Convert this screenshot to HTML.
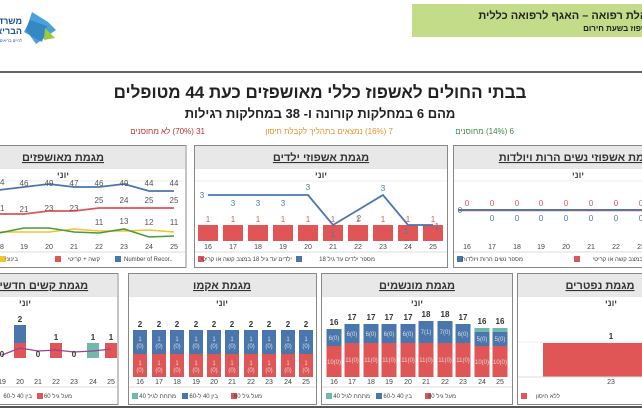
<!DOCTYPE html>
<html><head><meta charset="utf-8"><style>
html,body{margin:0;padding:0;background:#fff;}
svg{display:block;font-family:"Liberation Sans","DejaVu Sans",sans-serif;}
.t{font-weight:bold;font-size:11px;text-decoration:underline;fill:#333}
.m{font-size:9px;fill:#444;font-weight:bold}
.x{font-size:7px;fill:#444}
.lg{font-size:6px;fill:#444}
</style></head><body>
<svg width="642" height="410" viewBox="0 0 642 410" xmlns="http://www.w3.org/2000/svg">
<!-- header -->
<rect x="412" y="4" width="235" height="33" fill="#c3dc8a"/>
<text x="660" y="19" font-size="11" font-weight="bold" text-anchor="start" direction="rtl" fill="#222">מנהלת רפואה – האגף לרפואה כללית</text>
<text x="680" y="31" font-size="8" font-weight="bold" text-anchor="start" direction="rtl" fill="#222">מערך האשפוז בשעת חירום</text>
<polygon points="32,12 48,22 56,30 36,44 26,30" fill="#4aa3d8"/>
<polygon points="30,20 47,26 42,42 24,32" fill="#2f7fc0" opacity="0.8"/>
<polygon points="45,28 55,38 44,40" fill="#9ccb3b"/>
<text x="22" y="24" font-size="9" font-weight="bold" fill="#1d4f8c" text-anchor="start" direction="rtl">משרד</text>
<text x="22" y="34" font-size="9" font-weight="bold" fill="#1d4f8c" text-anchor="start" direction="rtl">הבריאות</text>
<text x="22" y="42" font-size="4" fill="#1d4f8c" text-anchor="start" direction="rtl">לחיים בריאים</text>
<rect x="0" y="71" width="642" height="2" fill="#666"/>
<text x="320" y="98" font-size="17" font-weight="bold" text-anchor="middle" direction="rtl" fill="#222">בבתי החולים לאשפוז כללי מאושפזים כעת 44 מטופלים</text>
<text x="320" y="118" font-size="13" font-weight="bold" text-anchor="middle" direction="rtl" fill="#222">מהם 6 במחלקות קורונה ו- 38 במחלקות רגילות</text>
<text x="514" y="134" font-size="8" text-anchor="start" direction="rtl" fill="#3f8a3f">6 (14%) מחוסנים</text>
<text x="393" y="134" font-size="8" text-anchor="start" direction="rtl" fill="#e8902a">7 (16%) נמצאים בתהליך לקבלת חיסון</text>
<text x="205" y="134" font-size="8" text-anchor="start" direction="rtl" fill="#c0302a">31 (70%) לא מחוסנים</text>

<!-- Row1 panels -->
<g>
<rect x="-66" y="145.5" width="252" height="122" fill="#fff" stroke="#888"/>
<rect x="-65" y="146" width="250" height="23" fill="#e8e8e8"/>
<text x="63" y="161" class="t" text-anchor="middle" direction="rtl">מגמת מאושפזים</text>
<text x="63" y="178" class="m" text-anchor="middle">יוני</text>
<line x1="-65" y1="181" x2="185" y2="181" stroke="#eee"/>
<polyline points="-1,190 24,187 49,184 74,187 99,187 124,184 149,191 174,191" fill="none" stroke="#4a76ae" stroke-width="1.8"/>
<g font-size="8" fill="#555" text-anchor="middle"><text x="0" y="185">44</text><text x="24" y="186">46</text><text x="49" y="186">49</text><text x="74" y="186">47</text><text x="99" y="186">46</text><text x="124" y="186">49</text><text x="149" y="186">44</text><text x="174" y="186">44</text></g>
<polyline points="-1,214 24,214 49,211 74,211 99,208 124,208 149,208 174,208" fill="none" stroke="#e05555" stroke-width="1.8"/>
<g font-size="8" fill="#555" text-anchor="middle"><text x="0" y="211">21</text><text x="24" y="212">21</text><text x="49" y="211">23</text><text x="74" y="211">23</text><text x="99" y="203">25</text><text x="124" y="203">24</text><text x="149" y="203">25</text><text x="174" y="203">25</text>
<text x="99" y="225">11</text><text x="124" y="224">13</text><text x="149" y="225">12</text><text x="174" y="225">11</text></g>
<polyline points="-1,232 24,232 49,232 74,229 99,231 124,231 149,230 174,232" fill="none" stroke="#f0c330" stroke-width="1.6"/>
<polyline points="-1,233 24,228 49,228 74,232 99,233 124,229 149,237 174,236" fill="none" stroke="#4b9a35" stroke-width="1.6"/>
<g class="x" text-anchor="middle"><text x="0" y="249">18</text><text x="24" y="249">19</text><text x="49" y="249">20</text><text x="74" y="249">21</text><text x="99" y="249">22</text><text x="124" y="249">23</text><text x="149" y="249">24</text><text x="174" y="249">25</text></g>
<line x1="-65" y1="252" x2="185" y2="252" stroke="#ddd"/>
<rect x="115" y="256" width="6" height="6" fill="#4a76ae"/><text x="124" y="261" class="lg">Number of Recor..</text>
<rect x="55" y="256" width="6" height="6" fill="#e05555"/><text x="100" y="261" class="lg" text-anchor="start" direction="rtl">קשה + קריטי</text>
<rect x="0" y="256" width="6" height="6" fill="#f0c330"/><text x="18" y="261" class="lg" text-anchor="start" direction="rtl">בינוני</text>
</g>

<g>
<rect x="194.5" y="145.5" width="253" height="122" fill="#fff" stroke="#888"/>
<rect x="195" y="146" width="252" height="23" fill="#e8e8e8"/>
<text x="321" y="161" class="t" text-anchor="middle" direction="rtl">מגמת אשפוזי ילדים</text>
<text x="321" y="178" class="m" text-anchor="middle">יוני</text>
<line x1="195" y1="181" x2="447" y2="181" stroke="#eee"/>
<g fill="#e05555">
<rect x="198" y="225" width="20" height="16"/><rect x="223" y="225" width="20" height="16"/><rect x="248" y="225" width="20" height="16"/><rect x="273" y="225" width="20" height="16"/><rect x="298" y="225" width="20" height="16"/><rect x="323" y="225" width="20" height="16"/><rect x="348" y="225" width="20" height="16"/><rect x="373" y="225" width="20" height="16"/><rect x="398" y="225" width="20" height="16"/><rect x="423" y="225" width="20" height="16"/></g>
<g font-size="8" fill="#e05555" text-anchor="middle"><text x="208" y="222">1</text><text x="233" y="222">1</text><text x="258" y="222">1</text><text x="283" y="222">1</text><text x="308" y="222">1</text><text x="333" y="222">1</text><text x="358" y="222">1</text><text x="383" y="222">1</text><text x="408" y="222">1</text><text x="433" y="222">1</text></g>
<polyline points="208,195 233,195 258,195 283,195 308,195 333,225 358,210 383,195 408,225 433,225" fill="none" stroke="#4a76ae" stroke-width="1.8"/>
<g font-size="8" fill="#4a76ae" text-anchor="middle"><text x="202" y="198">3</text><text x="233" y="206">3</text><text x="258" y="206">3</text><text x="283" y="206">3</text><text x="308" y="190">3</text><text x="333" y="237">1</text><text x="359" y="221">2</text><text x="383" y="191">3</text><text x="406" y="234">1</text><text x="437" y="229">1</text></g>
<g class="x" text-anchor="middle"><text x="208" y="249">16</text><text x="233" y="249">17</text><text x="258" y="249">18</text><text x="283" y="249">19</text><text x="308" y="249">20</text><text x="333" y="249">21</text><text x="358" y="249">22</text><text x="383" y="249">23</text><text x="408" y="249">24</text><text x="433" y="249">25</text></g>
<line x1="195" y1="252" x2="447" y2="252" stroke="#ddd"/>
<rect x="198" y="256" width="6" height="6" fill="#e05555"/><text x="292" y="261" class="lg" text-anchor="start" direction="rtl">ילדים עד גיל 18 במצב קשה או קריטי</text>
<rect x="296" y="256" width="6" height="6" fill="#4a76ae"/><text x="375" y="261" class="lg" text-anchor="start" direction="rtl">מספר ילדים עד גיל 18</text>
</g>

<g>
<rect x="453.5" y="145.5" width="200" height="122" fill="#fff" stroke="#888"/>
<rect x="454" y="146" width="200" height="23" fill="#e8e8e8"/>
<text x="578" y="161" class="t" text-anchor="middle" direction="rtl">מגמת אשפוזי נשים הרות ויולדות</text>
<text x="578" y="178" class="m" text-anchor="middle">יוני</text>
<line x1="454" y1="181" x2="642" y2="181" stroke="#eee"/>
<line x1="458" y1="210" x2="642" y2="210" stroke="#4a76ae" stroke-width="2"/>
<line x1="458" y1="211" x2="642" y2="211" stroke="#e05555" stroke-width="0.6"/>
<g font-size="8" fill="#e05555" text-anchor="middle"><text x="467" y="206">0</text><text x="492" y="206">0</text><text x="517" y="206">0</text><text x="541" y="206">0</text><text x="566" y="206">0</text><text x="591" y="206">0</text><text x="616" y="206">0</text><text x="641" y="206">0</text></g>
<g font-size="8" fill="#4a76ae" text-anchor="middle"><text x="460" y="213">0</text><text x="492" y="221">0</text><text x="517" y="221">0</text><text x="541" y="221">0</text><text x="566" y="221">0</text><text x="591" y="221">0</text><text x="616" y="221">0</text><text x="641" y="221">0</text></g>
<g class="x" text-anchor="middle"><text x="467" y="249">16</text><text x="492" y="249">17</text><text x="517" y="249">18</text><text x="541" y="249">19</text><text x="566" y="249">20</text><text x="591" y="249">21</text><text x="616" y="249">22</text><text x="641" y="249">23</text></g>
<line x1="454" y1="252" x2="642" y2="252" stroke="#ddd"/>
<rect x="457" y="256" width="6" height="6" fill="#4a76ae"/><text x="523" y="261" class="lg" text-anchor="start" direction="rtl">מספר נשים הרות ויולדות</text>
<rect x="574" y="256" width="6" height="6" fill="#e05555"/><text x="660" y="261" class="lg" text-anchor="start" direction="rtl">יולדות במצב קשה או קריטי</text>
</g>

<!-- Row2 -->
<g>
<rect x="-70" y="273.5" width="188" height="131" fill="#fff" stroke="#888"/>
<rect x="-69" y="274" width="186" height="23" fill="#e8e8e8"/>
<text x="40" y="289" class="t" text-anchor="middle" direction="rtl">מגמת קשים חדשים</text>
<text x="25" y="306" class="m" text-anchor="middle">יוני</text>
<rect x="14" y="325" width="12" height="18" fill="#4a76ae"/><rect x="14" y="343" width="12" height="15" fill="#e05555"/>
<rect x="50" y="343" width="12" height="15" fill="#e05555"/>
<rect x="87" y="343" width="12" height="15" fill="#6fb8aa"/>
<rect x="105" y="343" width="12" height="15" fill="#e05555"/>
<polyline points="2,355 20,348 38,351 56,350 74,352 93,351 111,349" fill="none" stroke="#a04090" stroke-width="1.3"/>
<g font-size="8" font-weight="bold" fill="#333" text-anchor="middle"><text x="2" y="357">0</text><text x="20" y="322">2</text><text x="38" y="357">0</text><text x="56" y="340">1</text><text x="74" y="357">0</text><text x="93" y="340">1</text><text x="111" y="340">1</text></g>
<g class="x" text-anchor="middle"><text x="2" y="384">19</text><text x="20" y="384">20</text><text x="38" y="384">21</text><text x="56" y="384">22</text><text x="74" y="384">23</text><text x="93" y="384">24</text><text x="111" y="384">25</text></g>
<line x1="-69" y1="387" x2="117" y2="387" stroke="#ddd"/>
<rect x="37" y="393" width="6" height="6" fill="#e05555"/><text x="72" y="398" class="lg" text-anchor="start" direction="rtl">מעל גיל 60</text>
<text x="32" y="398" class="lg" text-anchor="start" direction="rtl">בין 40 ל-60</text>
</g>

<g>
<rect x="128.5" y="273.5" width="188" height="131" fill="#fff" stroke="#888"/>
<rect x="129" y="274" width="187" height="23" fill="#e8e8e8"/>
<text x="222" y="289" class="t" text-anchor="middle" direction="rtl">מגמת אקמו</text>
<text x="222" y="306" class="m" text-anchor="middle">יוני</text>
<g class="x" text-anchor="middle"><text x="140" y="384">16</text><text x="159" y="384">17</text><text x="177" y="384">18</text><text x="196" y="384">19</text><text x="214" y="384">20</text><text x="232" y="384">21</text><text x="251" y="384">22</text><text x="269" y="384">23</text><text x="288" y="384">24</text><text x="306" y="384">25</text></g>
<line x1="129" y1="387" x2="316" y2="387" stroke="#ddd"/>
<rect x="132" y="393" width="6" height="6" fill="#6fb8aa"/><text x="176" y="398" class="lg" text-anchor="start" direction="rtl">מתחת לגיל 40</text>
<rect x="182" y="393" width="6" height="6" fill="#4a76ae"/><text x="218" y="398" class="lg" text-anchor="start" direction="rtl">בין 40 ל-60</text>
<rect x="231" y="393" width="6" height="6" fill="#e05555"/><text x="262" y="398" class="lg" text-anchor="start" direction="rtl">מעל גיל 60</text>
</g>

<g>
<rect x="321.5" y="273.5" width="191" height="131" fill="#fff" stroke="#888"/>
<rect x="322" y="274" width="190" height="23" fill="#e8e8e8"/>
<text x="417" y="289" class="t" text-anchor="middle" direction="rtl">מגמת מונשמים</text>
<text x="417" y="306" class="m" text-anchor="middle">יוני</text>
<g class="x" text-anchor="middle"><text x="334" y="384">16</text><text x="352" y="384">17</text><text x="371" y="384">18</text><text x="389" y="384">19</text><text x="408" y="384">20</text><text x="426" y="384">21</text><text x="445" y="384">22</text><text x="463" y="384">23</text><text x="482" y="384">24</text><text x="500" y="384">25</text></g>
<line x1="322" y1="387" x2="512" y2="387" stroke="#ddd"/>
<rect x="326" y="393" width="6" height="6" fill="#6fb8aa"/><text x="370" y="398" class="lg" text-anchor="start" direction="rtl">מתחת לגיל 40</text>
<rect x="376" y="393" width="6" height="6" fill="#4a76ae"/><text x="412" y="398" class="lg" text-anchor="start" direction="rtl">בין 40 ל-60</text>
<rect x="425" y="393" width="6" height="6" fill="#e05555"/><text x="456" y="398" class="lg" text-anchor="start" direction="rtl">מעל גיל 60</text>
</g>

<g>
<rect x="517.5" y="273.5" width="140" height="131" fill="#fff" stroke="#888"/>
<rect x="518" y="274" width="140" height="23" fill="#e8e8e8"/>
<text x="600" y="289" class="t" text-anchor="middle" direction="rtl">מגמת נפטרים</text>
<text x="611" y="306" class="m" text-anchor="middle">יוני</text>
<line x1="518" y1="342" x2="642" y2="342" stroke="#eee"/>
<rect x="543" y="343" width="100" height="34" fill="#e05555"/>
<text x="611" y="339" font-size="8" font-weight="bold" fill="#333" text-anchor="middle">1</text>
<text x="611" y="384" class="x" text-anchor="middle">23</text>
<line x1="518" y1="377" x2="642" y2="377" stroke="#ddd"/>
<rect x="521" y="393" width="6" height="6" fill="#e05555"/><text x="560" y="398" class="lg" text-anchor="start" direction="rtl">ללא חיסון</text>
</g>
<rect x="0" y="406" width="642" height="2" fill="#555"/>

<!-- ECMO bars -->
<g font-size="6" fill="#ddd" text-anchor="middle">
<g transform="translate(140,0)"><rect x="-7" y="330" width="14" height="24" fill="#4a76ae"/><rect x="-7" y="354" width="14" height="23" fill="#e05555"/><text y="341">1</text><text y="348">(0)</text><text y="365">1</text><text y="372">(0)</text><text y="327" font-size="8" font-weight="bold" fill="#333">2</text></g>
<g transform="translate(159,0)"><rect x="-7" y="330" width="14" height="24" fill="#4a76ae"/><rect x="-7" y="354" width="14" height="23" fill="#e05555"/><text y="341">1</text><text y="348">(0)</text><text y="365">1</text><text y="372">(0)</text><text y="327" font-size="8" font-weight="bold" fill="#333">2</text></g>
<g transform="translate(177,0)"><rect x="-7" y="330" width="14" height="24" fill="#4a76ae"/><rect x="-7" y="354" width="14" height="23" fill="#e05555"/><text y="341">1</text><text y="348">(0)</text><text y="365">1</text><text y="372">(0)</text><text y="327" font-size="8" font-weight="bold" fill="#333">2</text></g>
<g transform="translate(196,0)"><rect x="-7" y="330" width="14" height="24" fill="#4a76ae"/><rect x="-7" y="354" width="14" height="23" fill="#e05555"/><text y="341">1</text><text y="348">(0)</text><text y="365">1</text><text y="372">(0)</text><text y="327" font-size="8" font-weight="bold" fill="#333">2</text></g>
<g transform="translate(214,0)"><rect x="-7" y="330" width="14" height="24" fill="#4a76ae"/><rect x="-7" y="354" width="14" height="23" fill="#e05555"/><text y="341">1</text><text y="348">(0)</text><text y="365">1</text><text y="372">(0)</text><text y="327" font-size="8" font-weight="bold" fill="#333">2</text></g>
<g transform="translate(232,0)"><rect x="-7" y="330" width="14" height="24" fill="#4a76ae"/><rect x="-7" y="354" width="14" height="23" fill="#e05555"/><text y="341">1</text><text y="348">(0)</text><text y="365">1</text><text y="372">(0)</text><text y="327" font-size="8" font-weight="bold" fill="#333">2</text></g>
<g transform="translate(251,0)"><rect x="-7" y="330" width="14" height="24" fill="#4a76ae"/><rect x="-7" y="354" width="14" height="23" fill="#e05555"/><text y="341">1</text><text y="348">(0)</text><text y="365">1</text><text y="372">(0)</text><text y="327" font-size="8" font-weight="bold" fill="#333">2</text></g>
<g transform="translate(269,0)"><rect x="-7" y="330" width="14" height="24" fill="#4a76ae"/><rect x="-7" y="354" width="14" height="23" fill="#e05555"/><text y="341">1</text><text y="348">(0)</text><text y="365">1</text><text y="372">(0)</text><text y="327" font-size="8" font-weight="bold" fill="#333">2</text></g>
<g transform="translate(288,0)"><rect x="-7" y="330" width="14" height="24" fill="#4a76ae"/><rect x="-7" y="354" width="14" height="23" fill="#e05555"/><text y="341">1</text><text y="348">(0)</text><text y="365">1</text><text y="372">(0)</text><text y="327" font-size="8" font-weight="bold" fill="#333">2</text></g>
<g transform="translate(306,0)"><rect x="-7" y="330" width="14" height="24" fill="#4a76ae"/><rect x="-7" y="354" width="14" height="23" fill="#e05555"/><text y="341">1</text><text y="348">(0)</text><text y="365">1</text><text y="372">(0)</text><text y="327" font-size="8" font-weight="bold" fill="#333">2</text></g>
</g>

<!-- Ventilated bars -->
<g font-size="6" fill="#ddd" text-anchor="middle">
<g transform="translate(334,0)"><rect x="-7.5" y="329" width="15" height="17" fill="#4a76ae"/><rect x="-7.5" y="346" width="15" height="31" fill="#e05555"/><text y="340">6(0)</text><text y="364">10(0)</text><text y="325" font-size="8" font-weight="bold" fill="#333">16</text></g>
<g transform="translate(352,0)"><rect x="-7.5" y="324" width="15" height="19" fill="#4a76ae"/><rect x="-7.5" y="343" width="15" height="34" fill="#e05555"/><text y="336">6(0)</text><text y="362">11(0)</text><text y="320" font-size="8" font-weight="bold" fill="#333">17</text></g>
<g transform="translate(371,0)"><rect x="-7.5" y="324" width="15" height="19" fill="#4a76ae"/><rect x="-7.5" y="343" width="15" height="34" fill="#e05555"/><text y="336">6(0)</text><text y="362">11(0)</text><text y="320" font-size="8" font-weight="bold" fill="#333">17</text></g>
<g transform="translate(389,0)"><rect x="-7.5" y="324" width="15" height="19" fill="#4a76ae"/><rect x="-7.5" y="343" width="15" height="34" fill="#e05555"/><text y="336">6(0)</text><text y="362">11(0)</text><text y="320" font-size="8" font-weight="bold" fill="#333">17</text></g>
<g transform="translate(408,0)"><rect x="-7.5" y="324" width="15" height="19" fill="#4a76ae"/><rect x="-7.5" y="343" width="15" height="34" fill="#e05555"/><text y="336">6(0)</text><text y="362">11(0)</text><text y="320" font-size="8" font-weight="bold" fill="#333">17</text></g>
<g transform="translate(426,0)"><rect x="-7.5" y="321" width="15" height="22" fill="#4a76ae"/><rect x="-7.5" y="343" width="15" height="34" fill="#e05555"/><text y="334">7(1)</text><text y="362">11(0)</text><text y="317" font-size="8" font-weight="bold" fill="#333">18</text></g>
<g transform="translate(445,0)"><rect x="-7.5" y="321" width="15" height="22" fill="#4a76ae"/><rect x="-7.5" y="343" width="15" height="34" fill="#e05555"/><text y="334">7(0)</text><text y="362">11(0)</text><text y="317" font-size="8" font-weight="bold" fill="#333">18</text></g>
<g transform="translate(463,0)"><rect x="-7.5" y="324" width="15" height="19" fill="#4a76ae"/><rect x="-7.5" y="343" width="15" height="34" fill="#e05555"/><text y="336">6(0)</text><text y="362">11(0)</text><text y="320" font-size="8" font-weight="bold" fill="#333">17</text></g>
<g transform="translate(482,0)"><rect x="-7.5" y="328" width="15" height="4" fill="#6fb8aa"/><rect x="-7.5" y="332" width="15" height="14" fill="#4a76ae"/><rect x="-7.5" y="346" width="15" height="31" fill="#e05555"/><text y="341">5(0)</text><text y="364">10(0)</text><text y="324" font-size="8" font-weight="bold" fill="#333">16</text></g>
<g transform="translate(500,0)"><rect x="-7.5" y="328" width="15" height="4" fill="#6fb8aa"/><rect x="-7.5" y="332" width="15" height="14" fill="#4a76ae"/><rect x="-7.5" y="346" width="15" height="31" fill="#e05555"/><text y="341">5(0)</text><text y="364">10(0)</text><text y="324" font-size="8" font-weight="bold" fill="#333">16</text></g>
</g>
</svg>
</body></html>
